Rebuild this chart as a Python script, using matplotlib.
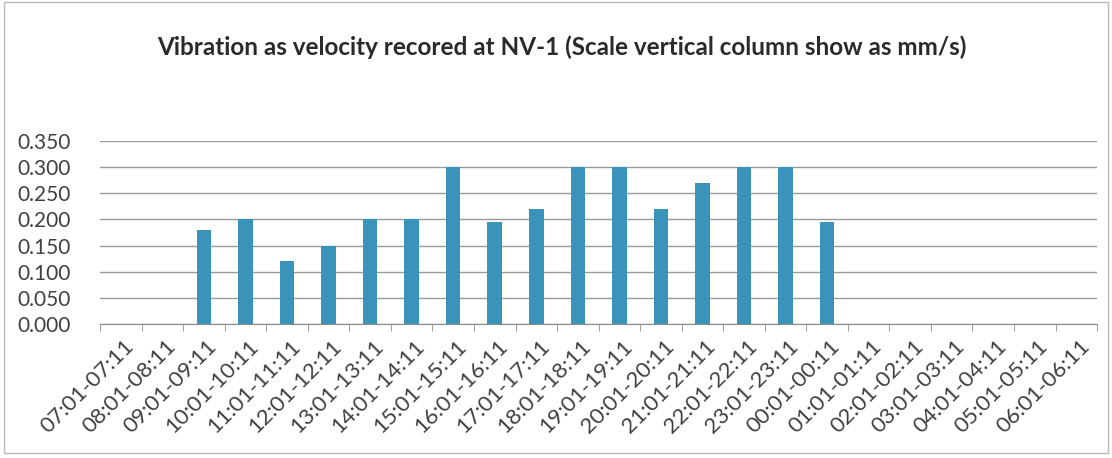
import matplotlib.pyplot as plt
import matplotlib.transforms as mtransforms
import numpy as np

# hourly intervals and measured velocity (mm/s)
periods = ['07:01-07:11', '08:01-08:11', '09:01-09:11', '10:01-10:11', '11:01-11:11',
           '12:01-12:11', '13:01-13:11', '14:01-14:11', '15:01-15:11', '16:01-16:11',
           '17:01-17:11', '18:01-18:11', '19:01-19:11', '20:01-20:11', '21:01-21:11',
           '22:01-22:11', '23:01-23:11', '00:01-00:11', '01:01-01:11', '02:01-02:11',
           '03:01-03:11', '04:01-04:11', '05:01-05:11', '06:01-06:11']
velocity = [0, 0, 0.18, 0.20, 0.12, 0.15, 0.20, 0.20, 0.30, 0.195,
            0.22, 0.30, 0.30, 0.22, 0.27, 0.30, 0.30, 0.195, 0, 0,
            0, 0, 0, 0]
yticks = [0.0, 0.05, 0.10, 0.15, 0.20, 0.25, 0.30, 0.35]

plt.rcParams['font.family'] = ['Lato', 'DejaVu Sans']

fig = plt.figure(figsize=(11.12, 4.58), dpi=100)
ax = fig.add_axes([0.090, 0.2926, 0.8966, 0.3996])

x = np.arange(len(periods))
ax.bar(x, velocity, width=0.35, color='#3a93b9', zorder=3)

ax.set_xlim(-0.5, len(periods) - 0.5)
ax.set_ylim(0, 0.35)
ax.set_yticks(yticks)
ax.set_yticklabels(['%.3f' % v for v in yticks], fontsize=15, color='#404040')
ax.yaxis.grid(True, color='#9a9a9a', linewidth=1.0, zorder=0)
ax.tick_params(axis='y', length=0, pad=21)

# category ticks sit between bars
ax.set_xticks(np.arange(-0.5, len(periods), 1.0), minor=True)
ax.tick_params(axis='x', which='minor', length=5, color='#8a8a8a', direction='out')
ax.set_xticks(x)
ax.set_xticklabels(periods, rotation=45, ha='right', va='center', rotation_mode='anchor',
                   fontsize=16, color='#404040')
ax.tick_params(axis='x', which='major', length=0, pad=14)
shift = mtransforms.ScaledTranslation(10 / 100, 0, fig.dpi_scale_trans)
for lab in ax.get_xticklabels():
    lab.set_transform(lab.get_transform() + shift)

for s in ['top', 'right', 'left']:
    ax.spines[s].set_visible(False)
ax.spines['bottom'].set_color('#8a8a8a')

fig.text(0.505, 0.897, 'Vibration as velocity recored at NV-1 (Scale vertical column show as mm/s)',
         ha='center', va='center', fontsize=17.5, fontweight='bold', color='#2a2a2a')

# chart border
fig.patches.append(plt.Rectangle((0.004, 0.01), 0.992, 0.985, transform=fig.transFigure,
                                 fill=False, edgecolor='#bbbbbb', linewidth=1.0))

fig.savefig('out.png', dpi=100)
